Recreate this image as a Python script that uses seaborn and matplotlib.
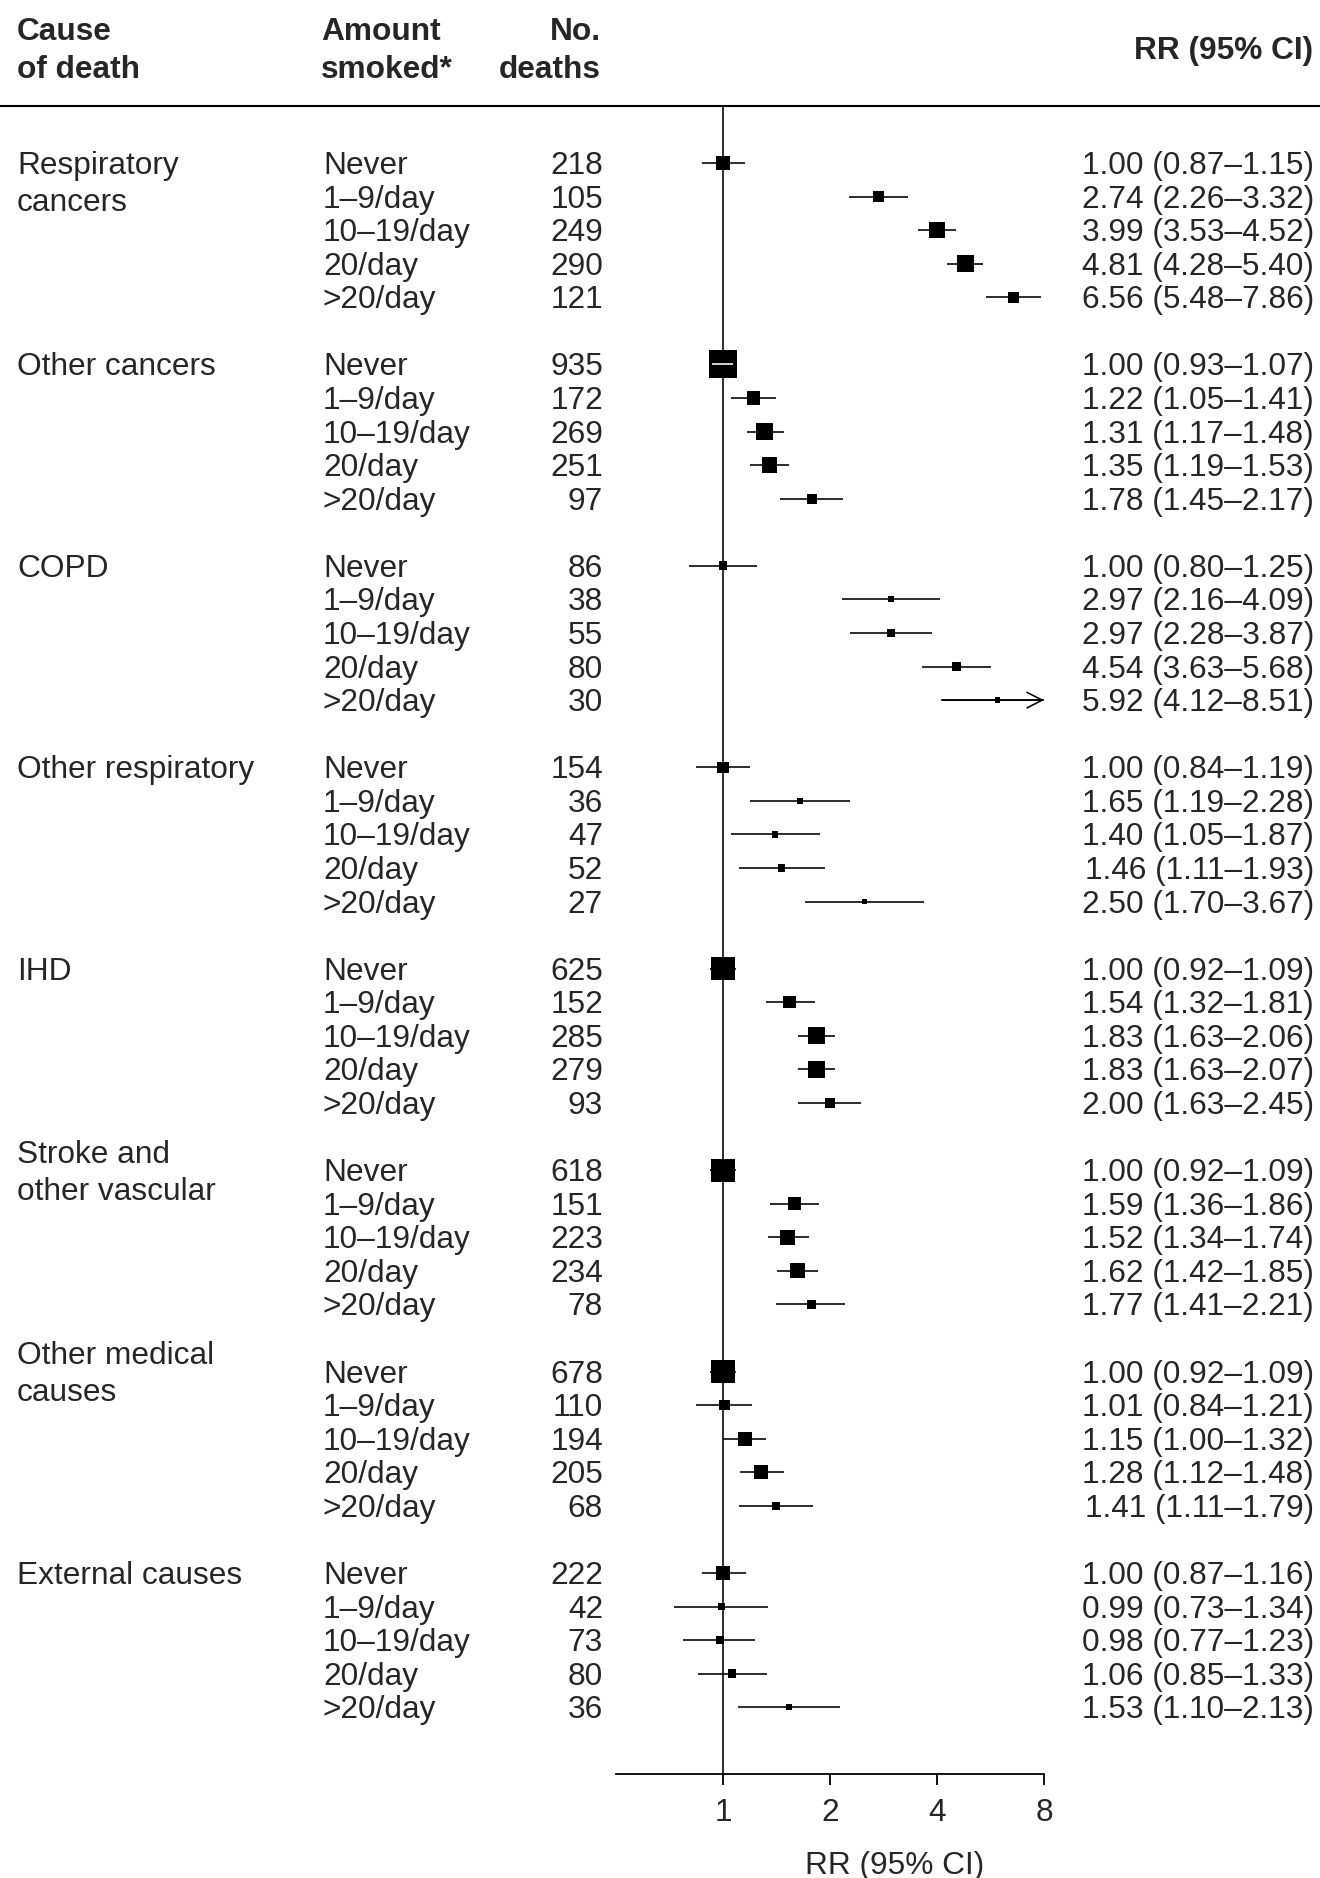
import numpy as np
import pandas as pd
import matplotlib
matplotlib.use("Agg")
import matplotlib.pyplot as plt
import seaborn as sns
from matplotlib.transforms import blended_transform_factory, offset_copy
from matplotlib.lines import Line2D

# ---------------- data ----------------
causes = ["Respiratory\ncancers", "Other cancers", "COPD", "Other respiratory",
          "IHD", "Stroke and\nother vascular", "Other medical\ncauses", "External causes"]
amounts = ["Never", "1–9/day", "10–19/day", "20/day", ">20/day"]

deaths = [218, 105, 249, 290, 121,
          935, 172, 269, 251, 97,
          86, 38, 55, 80, 30,
          154, 36, 47, 52, 27,
          625, 152, 285, 279, 93,
          618, 151, 223, 234, 78,
          678, 110, 194, 205, 68,
          222, 42, 73, 80, 36]
rr = [1.00, 2.74, 3.99, 4.81, 6.56,
      1.00, 1.22, 1.31, 1.35, 1.78,
      1.00, 2.97, 2.97, 4.54, 5.92,
      1.00, 1.65, 1.40, 1.46, 2.50,
      1.00, 1.54, 1.83, 1.83, 2.00,
      1.00, 1.59, 1.52, 1.62, 1.77,
      1.00, 1.01, 1.15, 1.28, 1.41,
      1.00, 0.99, 0.98, 1.06, 1.53]
lo = [0.87, 2.26, 3.53, 4.28, 5.48,
      0.93, 1.05, 1.17, 1.19, 1.45,
      0.80, 2.16, 2.28, 3.63, 4.12,
      0.84, 1.19, 1.05, 1.11, 1.70,
      0.92, 1.32, 1.63, 1.63, 1.63,
      0.92, 1.36, 1.34, 1.42, 1.41,
      0.92, 0.84, 1.00, 1.12, 1.11,
      0.87, 0.73, 0.77, 0.85, 1.10]
hi = [1.15, 3.32, 4.52, 5.40, 7.86,
      1.07, 1.41, 1.48, 1.53, 2.17,
      1.25, 4.09, 3.87, 5.68, 8.51,
      1.19, 2.28, 1.87, 1.93, 3.67,
      1.09, 1.81, 2.06, 2.07, 2.45,
      1.09, 1.86, 1.74, 1.85, 2.21,
      1.09, 1.21, 1.32, 1.48, 1.79,
      1.16, 1.34, 1.23, 1.33, 2.13]
x_ticks = [1, 2, 4, 8]
x_tick_labels = ["1", "2", "4", "8"]

# ---------------- layout ----------------
W, H, DPI = 1320, 1878, 100
FS = 22.8
FONT = ["Liberation Sans", "DejaVu Sans"]
TXT_DY = 3.0  # px downward shift of text relative to row centre

sns.set_theme(style="white")
plt.rcParams["font.family"] = FONT
plt.rcParams["font.size"] = FS

fig = plt.figure(figsize=(W / DPI, H / DPI), dpi=DPI)

row0_px, row_step = 163.0, 33.57
top_px, bot_px = 105.7, 1774.0
x_left_px, x_right_px = 616.0, 1044.0

ax = fig.add_axes([x_left_px / W, 1 - bot_px / H,
                   (x_right_px - x_left_px) / W, (bot_px - top_px) / H])
ax.set_xscale("log", base=2)
ax.set_xlim(0.5, 8)
ax.set_ylim((bot_px - row0_px) / row_step, (top_px - row0_px) / row_step)

n_grp, n_lvl = len(causes), len(amounts)
rows = []
for g in range(n_grp):
    for l in range(n_lvl):
        rows.append(g * (n_lvl + 1) + l)

df = pd.DataFrame({"row": rows, "rr": rr, "lo": lo, "hi": hi, "deaths": deaths,
                   "amount": amounts * n_grp})
df["se"] = (np.log(df["hi"]) - np.log(df["lo"])) / 3.92
box_px = 28.0 * df["se"].min() / df["se"]
df["area"] = (box_px * 72.0 / DPI) ** 2
amax = df["area"].max()

xmax = 8
# CI lines
ax.hlines(df["row"], df["lo"], np.minimum(df["hi"], xmax), color="black", lw=1.15, zorder=2)
for _, r in df[df["hi"] > xmax].iterrows():
    ax.annotate("", xy=(xmax, r["row"]), xytext=(r["lo"], r["row"]),
                arrowprops=dict(arrowstyle="->,head_length=0.55,head_width=0.28",
                                color="black", lw=1.15, mutation_scale=20,
                                shrinkA=0, shrinkB=0), zorder=2)

# boxes
sns.scatterplot(data=df, x="rr", y="row", size="area", sizes=(0, amax),
                size_norm=(0, amax), marker="s", color="black", linewidth=0,
                legend=False, ax=ax, zorder=3)

# white CI line where box wider than CI
px_per_log2 = (x_right_px - x_left_px) / (np.log2(8) - np.log2(0.5))
ci_half_px = (np.log2(df["hi"]) - np.log2(df["lo"])) / 2 * px_per_log2
inside = df[box_px / 2 > ci_half_px]
ax.hlines(inside["row"], inside["lo"], inside["hi"], color="white", lw=1.15, zorder=4)

# reference line
ax.axvline(1, color="black", lw=1.15, zorder=1)

# axis styling
for s in ["left", "top", "right"]:
    ax.spines[s].set_visible(False)
ax.spines["bottom"].set_color("black")
ax.spines["bottom"].set_linewidth(1.3)
ax.set_xticks(x_ticks)
ax.set_xticklabels(x_tick_labels)
ax.xaxis.set_minor_locator(matplotlib.ticker.NullLocator())
ax.tick_params(axis="x", which="major", direction="out", length=8, width=1.3,
               color="black", labelsize=FS, pad=9, bottom=True)
ax.set_yticks([])
ax.set_xlabel("")
ax.set_ylabel("")
ax.patch.set_alpha(0)

# header rule
fig.add_artist(Line2D([0, 1], [1 - top_px / H, 1 - top_px / H], transform=fig.transFigure,
                      color="black", lw=1.5))

# header texts
def ftext(xpx, ypx, s, **kw):
    fig.text(xpx / W, 1 - (ypx + TXT_DY) / H, s, fontsize=FS, **kw)

ftext(17, 29, "Cause", fontweight="bold", va="center", ha="left")
ftext(17, 67, "of death", fontweight="bold", va="center", ha="left")
ftext(321, 29, "Amount", fontweight="bold", va="center", ha="left")
ftext(321, 67, "smoked*", fontweight="bold", va="center", ha="left")
ftext(601, 29, "No.", fontweight="bold", va="center", ha="right")
ftext(601, 67, "deaths", fontweight="bold", va="center", ha="right")
ftext(1313, 48, "RR (95% CI)", fontweight="bold", va="center", ha="right")
ftext(895, 1863, "RR (95% CI)", va="center", ha="center")

# table texts
tr0 = blended_transform_factory(fig.transFigure, ax.transData)
tr = offset_copy(tr0, fig=fig, x=0, y=-TXT_DY * 72.0 / DPI, units="points")
for _, r in df.iterrows():
    ax.text(323 / W, r["row"], r["amount"], transform=tr, ha="left", va="center",
            fontsize=FS, clip_on=False)
    ax.text(603 / W, r["row"], f"{int(r['deaths'])}", transform=tr, ha="right",
            va="center", fontsize=FS, clip_on=False)
    ax.text(1314 / W, r["row"],
            f"{r['rr']:.2f} ({r['lo']:.2f}–{r['hi']:.2f})",
            transform=tr, ha="right", va="center", fontsize=FS, clip_on=False)

line_gap = 1.1
for g, name in enumerate(causes):
    base = g * (n_lvl + 1)
    lines = name.split("\n")
    if len(lines) == 1:
        offs = [0.0]
    elif g == 0:
        offs = [0.0, line_gap]
    else:
        offs = [-line_gap / 2, line_gap / 2]
    for ln, o in zip(lines, offs):
        ax.text(17 / W, base + o, ln, transform=tr, ha="left", va="center",
                fontsize=FS, clip_on=False)

fig.savefig("out.png", dpi=DPI)
